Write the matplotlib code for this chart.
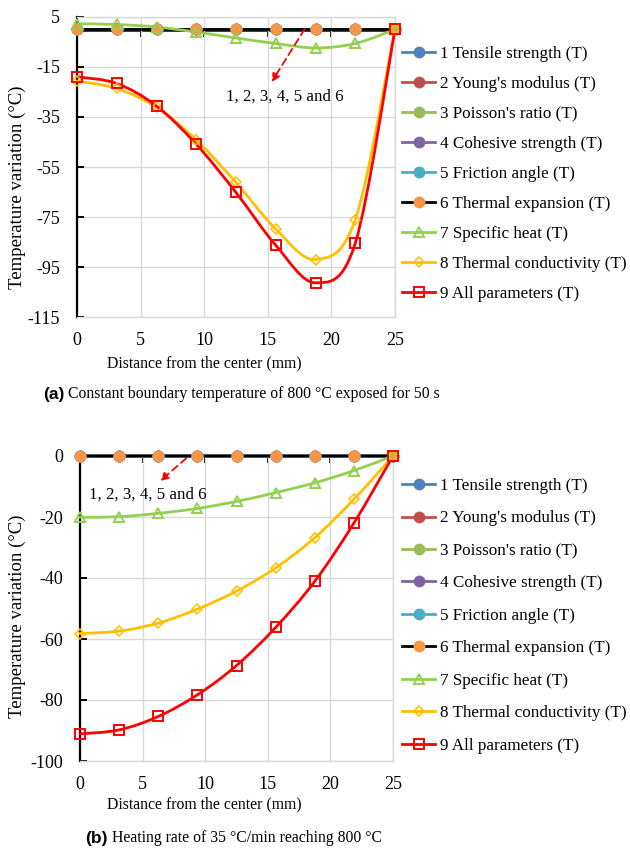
import numpy as np
import matplotlib
matplotlib.use("Agg")
import matplotlib.pyplot as plt
from matplotlib.path import Path
from matplotlib.patches import PathPatch
from matplotlib.lines import Line2D

plt.rcParams["font.family"] = ["Liberation Serif", "DejaVu Serif"]
plt.rcParams["axes.unicode_minus"] = False

# distance from the center (mm)
distance = [0, 3.125, 6.25, 9.375, 12.5, 15.625, 18.75, 21.875, 25]

labels = [
    "1 Tensile strength (T)",
    "2 Young's modulus (T)",
    "3 Poisson's ratio (T)",
    "4 Cohesive strength (T)",
    "5 Friction angle (T)",
    "6 Thermal expansion (T)",
    "7 Specific heat (T)",
    "8 Thermal conductivity (T)",
    "9 All parameters (T)",
]

# (a) constant boundary temperature, 50 s
zero_a = [0, 0, 0, 0, 0, 0, 0, 0, 0]
heat_a = [2.3, 2.0, 1.0, -1.0, -3.4, -5.6, -7.4, -5.6, 0]
cond_a = [-20.6, -23.6, -31.1, -44.2, -61.2, -79.8, -92.0, -76.1, 0]
all_a = [-18.9, -21.6, -30.6, -45.9, -65.2, -86.3, -101.3, -85.5, 0]

# (b) heating rate 35 C/min
zero_b = [0, 0, 0, 0, 0, 0, 0, 0, 0]
heat_b = [-20.1, -19.9, -18.8, -17.2, -14.9, -12.0, -8.8, -4.8, 0]
cond_b = [-58.2, -57.4, -54.8, -50.2, -44.3, -36.7, -26.8, -14.2, 0]
all_b = [-91.1, -89.8, -85.4, -78.3, -68.7, -56.2, -41.1, -22.0, 0]

# line colour, marker, marker face, marker edge, marker size, edge width
styles = [
    ("#4F81BD", "o", "#4F81BD", "#4F81BD", 7, 1.5),
    ("#C0504D", "o", "#C0504D", "#C0504D", 7, 1.5),
    ("#9BBB59", "o", "#9BBB59", "#9BBB59", 7, 1.5),
    ("#8064A2", "o", "#8064A2", "#8064A2", 7, 1.5),
    ("#4BACC6", "o", "#4BACC6", "#4BACC6", 7, 1.5),
    ("black", "o", "#F79646", "#F79646", 7, 1.5),
    ("#92D050", "^", "none", "#92D050", 6.5, 1.4),
    ("#FFC000", "D", "none", "#FFC000", 5, 1.1),
    ("#FF0000", "s", "none", "#FF0000", 6.5, 1.4),
]


def smooth_path(x, y):
    """Bezier path through the points, like Excel's smoothed line."""
    pts = np.column_stack([x, y]).astype(float)
    n = len(pts)
    verts = [pts[0]]
    codes = [Path.MOVETO]
    for i in range(n - 1):
        p0 = pts[i - 1] if i > 0 else pts[i]
        p1 = pts[i]
        p2 = pts[i + 1]
        p3 = pts[i + 2] if i + 2 < n else pts[i + 1]
        verts += [p1 + (p2 - p0) / 6, p2 - (p3 - p1) / 6, p2]
        codes += [Path.CURVE4] * 3
    return Path(verts, codes)


def draw_panel(ax, series, ymin, ymax, ystep, xlab_pos, ylab_pos):
    for (color, marker, face, edge, ms, mew), y in zip(styles, series):
        ax.add_patch(PathPatch(smooth_path(distance, y), fill=False,
                               edgecolor=color, lw=2.0, capstyle="round",
                               zorder=3, clip_on=False))
        ax.plot(distance, y, linestyle="none", marker=marker, ms=ms,
                markerfacecolor=face, markeredgecolor=edge,
                markeredgewidth=mew, zorder=4, clip_on=False)

    ax.set_xlim(0, 25)
    ax.set_ylim(ymin, ymax)
    ax.set_xticks(np.arange(0, 26, 5))
    ax.set_yticks(np.arange(ymin, ymax + 1, ystep))
    ax.grid(True, color="#d9d9d9", lw=1.0)
    ax.set_axisbelow(True)
    for side in ["top", "right", "bottom"]:
        ax.spines[side].set_color("#d9d9d9")
        ax.spines[side].set_linewidth(1.0)
    ax.spines["left"].set_color("black")
    ax.spines["left"].set_linewidth(1.6)
    ax.tick_params(axis="y", direction="in", length=5, width=1.4,
                   pad=12, labelsize=13)
    ax.tick_params(axis="x", length=0, pad=11, labelsize=13)

    # horizontal axis line sits at zero
    sec = ax.secondary_xaxis((0 - ymin) / (ymax - ymin))
    sec.set_alignment("bottom")
    sec.set_xticks(np.arange(5, 26, 5))
    sec.tick_params(axis="x", direction="out", length=5, width=1.4,
                    labelbottom=False)
    sec.spines["bottom"].set_color("black")
    sec.spines["bottom"].set_linewidth(1.8)
    sec.spines["bottom"].set_visible(True)

    ax.set_xlabel("Distance from the center (mm)", fontsize=11.3)
    ax.set_ylabel("Temperature variation (\u00b0C)", fontsize=13.5)
    ax.xaxis.set_label_coords(*xlab_pos)
    ax.yaxis.set_label_coords(*ylab_pos)


def legend_handles():
    return [Line2D([], [], color=c, lw=2.0, marker=m, ms=s,
                   markerfacecolor=f, markeredgecolor=e, markeredgewidth=w)
            for c, m, f, e, s, w in styles]


fig = plt.figure(figsize=(6.3, 8.49), dpi=100)
W, H = 630, 849

ax_a = fig.add_axes([77 / W, 1 - 317 / H, 318 / W, 300 / H])
draw_panel(ax_a, [zero_a] * 6 + [heat_a, cond_a, all_a], -115, 5, 20,
           (0.40, -0.128), (-0.16, 0.433))

ax_b = fig.add_axes([80 / W, 1 - 761 / H, 313 / W, 305 / H])
draw_panel(ax_b, [zero_b] * 6 + [heat_b, cond_b, all_b], -100, 0, 20,
           (0.396, -0.117), (-0.173, 0.475))

arrow = dict(arrowstyle="-|>", color="red", lw=1.3, linestyle=(0, (4, 2.5)),
             mutation_scale=12, shrinkA=0, shrinkB=0)
ax_a.annotate("", xy=(15.3, -21), xytext=(17.9, 0.2), arrowprops=arrow,
              zorder=6)
ax_a.text(16.3, -27, "1, 2, 3, 4, 5 and 6", fontsize=12.2, ha="center",
          va="center")
ax_b.annotate("", xy=(6.4, -8.2), xytext=(8.5, -0.7), arrowprops=arrow,
              zorder=6)
ax_b.text(5.4, -12.8, "1, 2, 3, 4, 5 and 6", fontsize=12.2, ha="center",
          va="center")

for ax, top, spacing in [(ax_a, 46, 0.82), (ax_b, 478, 0.965)]:
    ax.legend(legend_handles(), labels, loc="upper left",
              bbox_to_anchor=(402 / W, 1 - top / H),
              bbox_transform=fig.transFigure, frameon=False, fontsize=12.3,
              handlelength=1.95, handletextpad=0.25, labelspacing=spacing,
              borderpad=0, borderaxespad=0)

# panel captions
captions = [
    (43, 395, "(a)", " Constant boundary temperature of 800 \u00b0C exposed for 50 s"),
    (85, 838, "(b)", " Heating rate of 35 \u00b0C/min reaching 800 \u00b0C"),
]
for x, y, tag, text in captions:
    t = fig.text(x / W, 1 - y / H, tag, fontsize=12.5, fontweight="bold",
                 family="Liberation Sans", ha="left", va="center")
    ax_a.annotate(text, xy=(1, 0), xycoords=t, ha="left", va="bottom",
                  fontsize=11.3, annotation_clip=False)

fig.savefig("out.png", dpi=100)
